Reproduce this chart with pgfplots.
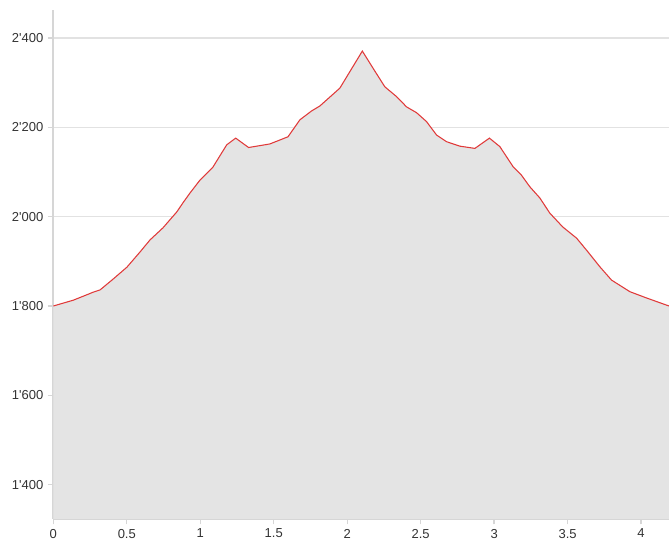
\documentclass[border=0pt]{standalone}
\usepackage{fontspec}
\setmainfont{Liberation Sans}
\usepackage{pgfplots}
\usepackage{pgfplotstable}
\pgfplotsset{compat=1.18}

\definecolor{profilefill}{HTML}{E4E4E4}
\definecolor{profileline}{HTML}{E03A3A}
\definecolor{axisgray}{HTML}{D6D6D6}
\definecolor{gridgray}{HTML}{E2E2E2}
\definecolor{labelgray}{HTML}{333333}

% distance (km) vs elevation (m)
\pgfplotstableread{
x y
0.000 1800
0.136 1813
0.204 1822
0.272 1831
0.318 1836
0.406 1860
0.501 1887
0.590 1921
0.658 1948
0.746 1975
0.841 2011
0.882 2031
0.930 2053
0.998 2082
1.086 2111
1.180 2161
1.241 2176
1.329 2155
1.474 2163
1.597 2179
1.678 2217
1.758 2237
1.814 2248
1.950 2288
2.103 2371
2.177 2332
2.256 2291
2.336 2269
2.404 2246
2.472 2233
2.540 2213
2.608 2183
2.676 2168
2.767 2158
2.869 2153
2.968 2176
3.039 2157
3.129 2112
3.186 2093
3.243 2067
3.311 2042
3.379 2008
3.467 1977
3.561 1952
3.629 1925
3.719 1888
3.799 1858
3.924 1832
4.037 1818
4.190 1800
}\profile

\begin{document}
\begin{tikzpicture}
\path[use as bounding box] (-40pt,-15.75pt) rectangle (461.8pt,389.25pt);
\begin{axis}[
  scale only axis,
  width=461.8pt, height=381.75pt,
  at={(0,0)}, anchor=south west,
  xmin=0, xmax=4.19,
  ymin=1323, ymax=2463,
  axis x line*=bottom,
  axis y line*=left,
  axis line style={axisgray, line width=1.5pt},
  xtick={0,0.5,...,4},
  ytick={1400,1600,...,2400},
  tick align=outside,
  major tick length=4pt,
  tick style={axisgray, line width=1pt},
  ymajorgrids,
  grid style={gridgray, line width=1pt},
  ticklabel style={font=\fontsize{9.75}{11}\selectfont, text=labelgray},
  /pgf/number format/assume math mode=true,
  /pgf/number format/1000 sep={\textquotesingle},
  clip=true,
]
\addplot[draw=none, fill=profilefill] table {\profile} \closedcycle;
\addplot[profileline, line width=0.8pt] table {\profile};
\end{axis}
\end{tikzpicture}
\end{document}
